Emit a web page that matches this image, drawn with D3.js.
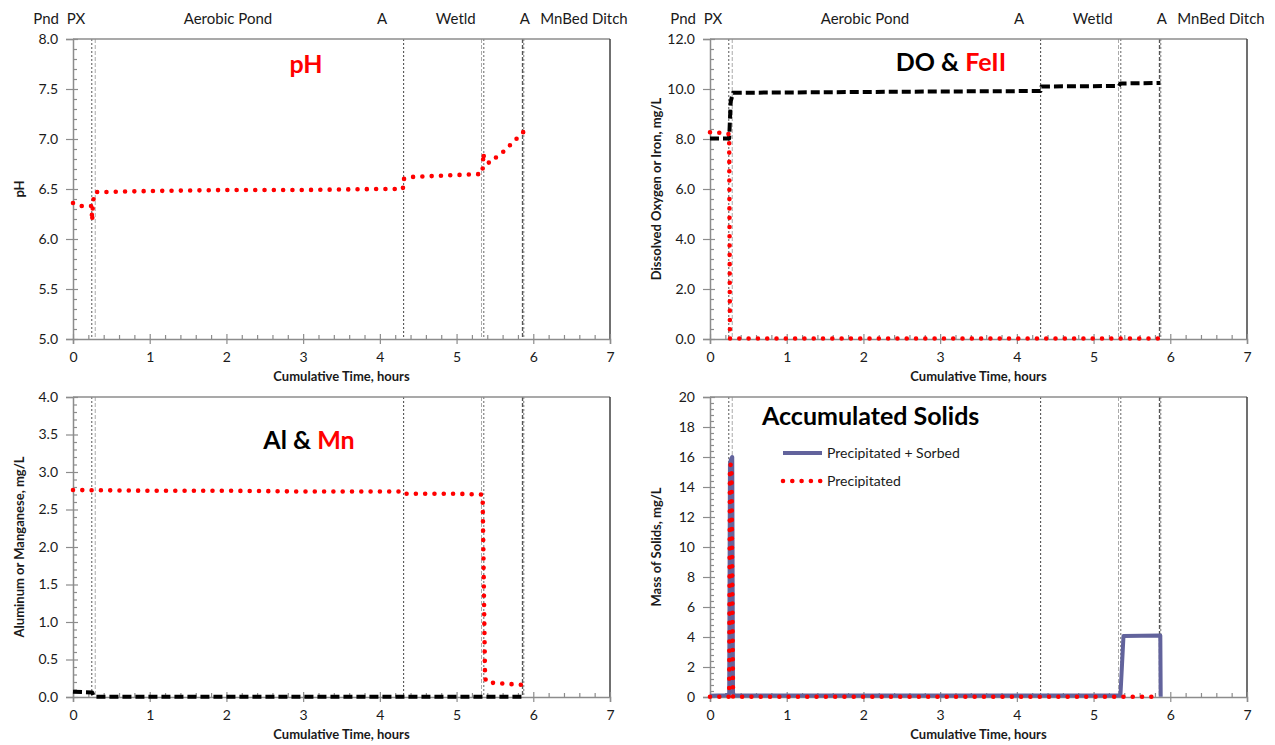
<!DOCTYPE html>
<html>
<head>
<meta charset="utf-8">
<script src="https://cdn.jsdelivr.net/npm/d3@7"></script>
<style>
  body { margin: 0; background: #fff; }
  text { font-family: Lato, "Open Sans", sans-serif; }
</style>
</head>
<body>
<svg id="chart" width="1275" height="745"></svg>
<script>
// ---- axis ticks ----
const timeTicks = [0, 1, 2, 3, 4, 5, 6, 7];
const phTicks = [5.0, 5.5, 6.0, 6.5, 7.0, 7.5, 8.0];
const oxygenIronTicks = [0, 2, 4, 6, 8, 10, 12];
const metalTicks = [0, 0.5, 1.0, 1.5, 2.0, 2.5, 3.0, 3.5, 4.0];
const solidsTicks = [0, 2, 4, 6, 8, 10, 12, 14, 16, 18, 20];

// ---- treatment stages along the flow path ----
const stageNames = ["Pnd", "PX", "Aerobic Pond", "A", "Wetld", "A", "MnBed Ditch"];
const stageTimes = [-0.35, 0.04, 2.02, 4.03, 4.99, 5.89, 6.66];   // hours (label centres)
const transitionTimes = [0.245, 0.29, 4.31, 5.325, 5.355, 5.86, 5.875];

// ---- pH ----
const phTime  = [0, 0.1, 0.2, 0.24, 0.245, 0.25, 0.255, 0.26, 0.28, 0.30, 0.4, 1, 2, 3, 4, 4.3, 4.31, 4.4, 5, 5.33, 5.34, 5.35, 5.36, 5.43, 5.52, 5.62, 5.87];
const phValue = [6.36, 6.33, 6.33, 6.33, 6.26, 6.18, 6.28, 6.36, 6.46, 6.47, 6.47, 6.48, 6.49, 6.49, 6.50, 6.50, 6.60, 6.62, 6.64, 6.65, 6.70, 6.86, 6.79, 6.76, 6.82, 6.88, 7.07];

// ---- dissolved oxygen and ferrous iron, mg/L ----
const doTime  = [0, 0.25, 0.27, 0.3, 1, 2, 3, 4.31, 4.32, 5.33, 5.35, 5.87];
const doValue = [8.02, 8.02, 9.5, 9.85, 9.86, 9.88, 9.9, 9.92, 10.1, 10.12, 10.22, 10.24];
const feTime  = [0, 0.12, 0.24, 0.25, 0.26, 0.3, 1, 2, 3, 4, 5, 5.85];
const feValue = [8.27, 8.25, 8.2, 8.1, 0.02, 0.02, 0.02, 0.02, 0.02, 0.02, 0.02, 0.02];

// ---- aluminum and manganese, mg/L ----
const alTime  = [0, 0.25, 0.27, 0.3, 1, 2, 3, 4, 5, 5.87];
const alValue = [0.07, 0.06, 0.01, 0.005, 0.005, 0.005, 0.005, 0.005, 0.005, 0.005];
const mnTime  = [0, 1, 2, 3, 4, 4.3, 4.31, 4.32, 5, 5.33, 5.34, 5.37, 5.38, 5.45, 5.6, 5.87];
const mnValue = [2.76, 2.75, 2.75, 2.74, 2.74, 2.74, 2.73, 2.71, 2.71, 2.70, 2.66, 0.35, 0.21, 0.19, 0.18, 0.16];

// ---- accumulated solids, mg/L ----
const sorbedTime  = [0, 0.2, 0.25, 0.26, 0.27, 0.29, 0.3, 0.31, 1, 2, 3, 4, 5, 5.35, 5.39, 5.87, 5.875];
const sorbedValue = [0.08, 0.12, 0.15, 15.5, 15.8, 16.0, 0.3, 0.1, 0.1, 0.1, 0.1, 0.1, 0.1, 0.1, 4.07, 4.1, 0.02];
const precipTime  = [0, 0.25, 0.26, 0.27, 0.28, 0.3, 1, 2, 3, 4, 5, 5.85];
const precipValue = [0.02, 0.02, 15.3, 15.5, 15.3, 0.02, 0.02, 0.02, 0.02, 0.02, 0.02, 0.02];

// ---- drawing ----
const svg = d3.select("#chart");
const RED = "#ff0000", BLUE = "#62639c", AXIS = "#8c8c8c", INK = "#1a1a1a";
const PLOT_W = 537, PLOT_H = 300;

const seriesStyle = {
  dots:  { stroke: RED, width: 4.6, dash: "0 9.3", cap: "round" },
  dash:  { stroke: "#000", width: 4, dash: "9 4", cap: "butt" },
  solid: { stroke: BLUE, width: 4, dash: null, cap: "butt" }
};

function subdivide(ticks, parts) {
  const out = [];
  for (let i = 0; i < ticks.length - 1; i++) {
    const step = (ticks[i + 1] - ticks[i]) / parts;
    for (let k = 1; k < parts; k++) out.push(ticks[i] + k * step);
  }
  return out;
}

function styleAxis(g) {
  g.select(".domain").attr("stroke", AXIS).attr("stroke-width", 1.5);
  g.selectAll(".tick line").attr("stroke", AXIS).attr("stroke-width", 1.2);
  g.selectAll("text").attr("fill", INK).style("font-size", "14px").style("font-family", "Lato, 'Open Sans', sans-serif");
}

function drawPanel(p) {
  const x = d3.scaleLinear().domain([0, 7]).range([p.left, p.left + PLOT_W]);
  const y = d3.scaleLinear().domain([p.yTicks[0], p.yTicks[p.yTicks.length - 1]]).range([p.top + PLOT_H, p.top]);
  const g = svg.append("g");
  const bottom = p.top + PLOT_H;

  // transition markers between treatment units
  const shade = ["#555", "#aaa", "#444", "#aaa", "#666", "#555", "#999"];
  transitionTimes.forEach((t, i) => {
    g.append("line")
      .attr("x1", x(t)).attr("x2", x(t))
      .attr("y1", p.top).attr("y2", bottom)
      .attr("stroke", shade[i]).attr("stroke-width", i >= 5 ? 1.4 : 1)
      .attr("stroke-dasharray", i % 2 ? "4 2" : "2 2");
  });

  // plot frame (top and right)
  g.append("line").attr("x1", x(0)).attr("x2", x(7)).attr("y1", p.top).attr("y2", p.top)
    .attr("stroke", AXIS).attr("stroke-width", 1.5);
  g.append("line").attr("x1", x(7)).attr("x2", x(7)).attr("y1", p.top).attr("y2", bottom)
    .attr("stroke", "#404040").attr("stroke-width", 1.5);

  // y axis: majors cross the axis, minors sit inside
  const ya = g.append("g").attr("transform", `translate(${x(0)},0)`)
    .call(d3.axisLeft(y).tickValues(p.yTicks).tickFormat(d3.format(p.fmt)).tickSize(7).tickPadding(8));
  styleAxis(ya);
  const yi = g.append("g").attr("transform", `translate(${x(0)},0)`)
    .call(d3.axisRight(y).tickValues(p.yTicks).tickFormat("").tickSize(5));
  yi.select(".domain").remove(); styleAxis(yi);
  const ym = g.append("g").attr("transform", `translate(${x(0)},0)`)
    .call(d3.axisRight(y).tickValues(subdivide(p.yTicks, 5)).tickFormat("").tickSize(4));
  ym.select(".domain").remove(); styleAxis(ym);

  // x axis
  const xa = g.append("g").attr("transform", `translate(0,${bottom})`)
    .call(d3.axisBottom(x).tickValues(timeTicks).tickFormat(d3.format("d")).tickSize(5).tickPadding(8));
  styleAxis(xa);
  const xi = g.append("g").attr("transform", `translate(0,${bottom})`)
    .call(d3.axisTop(x).tickValues(timeTicks).tickFormat("").tickSize(5));
  xi.select(".domain").remove(); styleAxis(xi);
  const xm = g.append("g").attr("transform", `translate(0,${bottom})`)
    .call(d3.axisTop(x).tickValues(subdivide(timeTicks, 5)).tickFormat("").tickSize(4));
  xm.select(".domain").remove(); styleAxis(xm);

  // axis titles
  g.append("text").attr("x", x(3.5)).attr("y", bottom + 42)
    .attr("text-anchor", "middle").attr("fill", INK)
    .style("font-size", "13px").style("font-weight", "bold")
    .text("Cumulative Time, hours");
  g.append("text")
    .attr("transform", `translate(${x(0) - 49},${p.top + PLOT_H / 2}) rotate(-90)`)
    .attr("text-anchor", "middle").attr("fill", INK)
    .style("font-size", "13px").style("font-weight", "bold")
    .text(p.yTitle);

  // stage names above the top row
  if (p.stages) {
    stageNames.forEach((name, i) => {
      g.append("text").attr("x", x(stageTimes[i])).attr("y", 24)
        .attr("text-anchor", "middle").attr("fill", INK)
        .style("font-size", "15px").text(name);
    });
  }

  // panel heading
  const title = g.append("text").attr("x", p.titleX).attr("y", p.titleY)
    .attr("text-anchor", p.titleAnchor || "middle")
    .style("font-size", "25px").style("font-weight", "bold");
  p.title.forEach(([txt, col]) => title.append("tspan").attr("fill", col).text(txt));

  // data series
  const line = d3.line().x(d => x(d[0])).y(d => y(d[1]));
  p.series.forEach(s => {
    const st = seriesStyle[s.kind];
    g.append("path").datum(d3.zip(s.t, s.v))
      .attr("d", line).attr("fill", "none")
      .attr("stroke", st.stroke).attr("stroke-width", st.width)
      .attr("stroke-dasharray", st.dash).attr("stroke-linecap", st.cap)
      .attr("stroke-linejoin", "round");
  });
  return { x, y, g };
}

drawPanel({
  left: 73, top: 39, yTicks: phTicks, fmt: ".1f", yTitle: "pH", stages: true,
  title: [["pH", RED]], titleX: 306, titleY: 73,
  series: [{ kind: "dots", t: phTime, v: phValue }]
});

drawPanel({
  left: 710, top: 39, yTicks: oxygenIronTicks, fmt: ".1f", yTitle: "Dissolved Oxygen or Iron, mg/L", stages: true,
  title: [["DO & ", "#000"], ["FeII", RED]], titleX: 951, titleY: 71,
  series: [{ kind: "dash", t: doTime, v: doValue }, { kind: "dots", t: feTime, v: feValue }]
});

drawPanel({
  left: 73, top: 397, yTicks: metalTicks, fmt: ".1f", yTitle: "Aluminum or Manganese, mg/L",
  title: [["Al & ", "#000"], ["Mn", RED]], titleX: 309, titleY: 449,
  series: [{ kind: "dash", t: alTime, v: alValue }, { kind: "dots", t: mnTime, v: mnValue }]
});

const solids = drawPanel({
  left: 710, top: 397, yTicks: solidsTicks, fmt: "d", yTitle: "Mass of Solids, mg/L",
  title: [["Accumulated Solids", "#000"]], titleX: 762, titleY: 425, titleAnchor: "start",
  series: [{ kind: "solid", t: sorbedTime, v: sorbedValue }, { kind: "dots", t: precipTime, v: precipValue }]
});

// legend for the solids panel
const legend = [
  { kind: "solid", label: "Precipitated + Sorbed", y: 453 },
  { kind: "dots", label: "Precipitated", y: 481 }
];
legend.forEach(item => {
  const st = seriesStyle[item.kind];
  solids.g.append("line").attr("x1", 783).attr("x2", 822).attr("y1", item.y).attr("y2", item.y)
    .attr("stroke", st.stroke).attr("stroke-width", st.width)
    .attr("stroke-dasharray", st.dash).attr("stroke-linecap", st.cap);
  solids.g.append("text").attr("x", 827).attr("y", item.y + 5)
    .attr("fill", INK).style("font-size", "14px").text(item.label);
});
</script>
</body>
</html>
